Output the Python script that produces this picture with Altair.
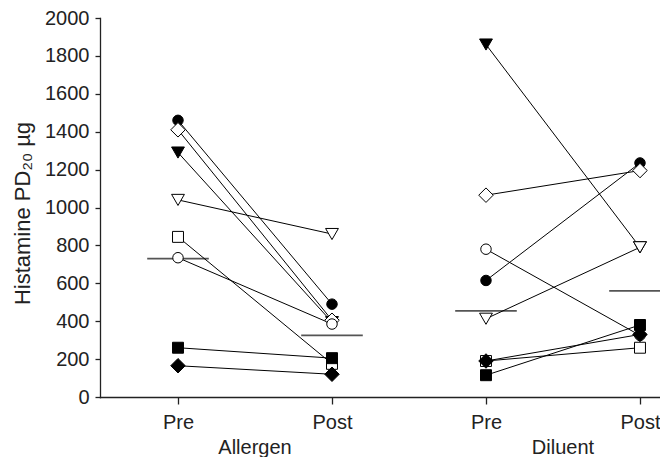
import altair as alt
import pandas as pd

# ---- data ----
groups = ["Allergen", "Diluent"]
phases = ["Pre", "Post"]
# subject markers (draw order: hidden markers first)
subjects = ["filled triangle", "open triangle", "open square", "filled square",
            "filled circle", "open diamond", "open circle", "filled diamond"]
allergen_pre = [1290, 1040, 845, 260, 1460, 1410, 735, 165]
allergen_post = [395, 860, 175, 205, 490, 405, 385, 120]
diluent_pre = [1860, 413, 190, 115, 615, 1065, 780, 190]
diluent_post = [790, 790, 260, 380, 1235, 1195, 325, 330]
# geometric-mean bars
mean_values = [730, 325, 455, 560]
y_ticks = [0, 200, 400, 600, 800, 1000, 1200, 1400, 1600, 1800, 2000]

# ---- style mapping ----
shape_of = {"circle": "circle", "diamond": "diamond", "triangle": "triangle-down", "square": "square"}
size_of = {"circle": 110, "diamond": 210, "triangle-down": 165, "square": 120}

rows = []
series = {("Allergen", "Pre"): allergen_pre, ("Allergen", "Post"): allergen_post,
          ("Diluent", "Pre"): diluent_pre, ("Diluent", "Post"): diluent_post}
for gi, g in enumerate(groups):
    for pi, p in enumerate(phases):
        vals = series[(g, p)]
        for si, s in enumerate(subjects):
            kind, shp = s.split()
            shape = shape_of[shp]
            rows.append({
                "pos": gi * 2 + pi + 1,
                "value": vals[si],
                "line": f"{g}-{s}",
                "order": si,
                "shape": shape,
                "fill": "black" if kind == "filled" else "white",
                "size": size_of[shape],
            })
df = pd.DataFrame(rows)

mean_df = pd.DataFrame({
    "pos": [1, 2, 3, 4],
    "value": mean_values,
})
mean_df["x1"] = mean_df["pos"] - 0.2
mean_df["x2"] = mean_df["pos"] + 0.2

label_df = pd.DataFrame({"pos": [1.5, 3.5], "label": groups})

xmin, xmax = 0.4935, 4.13
xscale = alt.Scale(domain=[xmin, xmax], nice=False, zero=False)
yscale = alt.Scale(domain=[0, 2000], nice=False)

FONT = "Liberation Sans"

x_axis = alt.Axis(values=[1, 2, 3, 4], labelExpr="datum.value % 2 == 1 ? 'Pre' : 'Post'",
                  title=None, grid=False, tickSize=7, labelPadding=8,
                  labelFontSize=20, labelFont=FONT, labelColor="#222",
                  domainColor="#222", tickColor="#222", domainWidth=1.3, tickWidth=1.3)
y_axis = alt.Axis(values=y_ticks, format="d", labelOverlap=False,
                  title="Histamine PD₂₀ µg",
                  grid=False, tickSize=5, labelPadding=6,
                  labelFontSize=20, labelFont=FONT, labelColor="#222",
                  titleFontSize=22, titleFont=FONT, titleFontWeight="normal",
                  titleColor="#222", titlePadding=10, titleY=195,
                  domainColor="#222", tickColor="#222", domainWidth=1.3, tickWidth=1.3)

X = alt.X("pos:Q", scale=xscale, axis=x_axis)
Y = alt.Y("value:Q", scale=yscale, axis=y_axis)

means = alt.Chart(mean_df).mark_rule(color="#555", strokeWidth=1.8, clip=True).encode(
    x=alt.X("x1:Q", scale=xscale, axis=x_axis),
    x2="x2:Q",
    y=Y,
)

lines = alt.Chart(df).mark_line(color="black", strokeWidth=1).encode(
    x=X, y=Y,
    detail="line:N",
    order="pos:Q",
)

points = alt.Chart(df).mark_point(stroke="black", strokeWidth=1, opacity=1, filled=False).encode(
    x=X, y=Y,
    shape=alt.Shape("shape:N", scale=None),
    fill=alt.Fill("fill:N", scale=None),
    size=alt.Size("size:Q", scale=None),
    order="order:Q",
)

glabels = alt.Chart(label_df).mark_text(fontSize=20, font=FONT, color="#222",
                                        baseline="alphabetic").encode(
    x=alt.X("pos:Q", scale=xscale, axis=x_axis),
    y=alt.value(436),
    text="label:N",
)

chart = alt.layer(means, lines, points, glabels).properties(
    width=560, height=379,
    autosize=alt.AutoSizeParams(type="none"),
    padding={"left": 92, "top": 10, "right": 0, "bottom": 60},
).configure_view(stroke=None).configure_axis(domainCap="square", labelOverlap=False)

chart.save("out.html", embed_options={"renderer": "svg", "actions": False})
